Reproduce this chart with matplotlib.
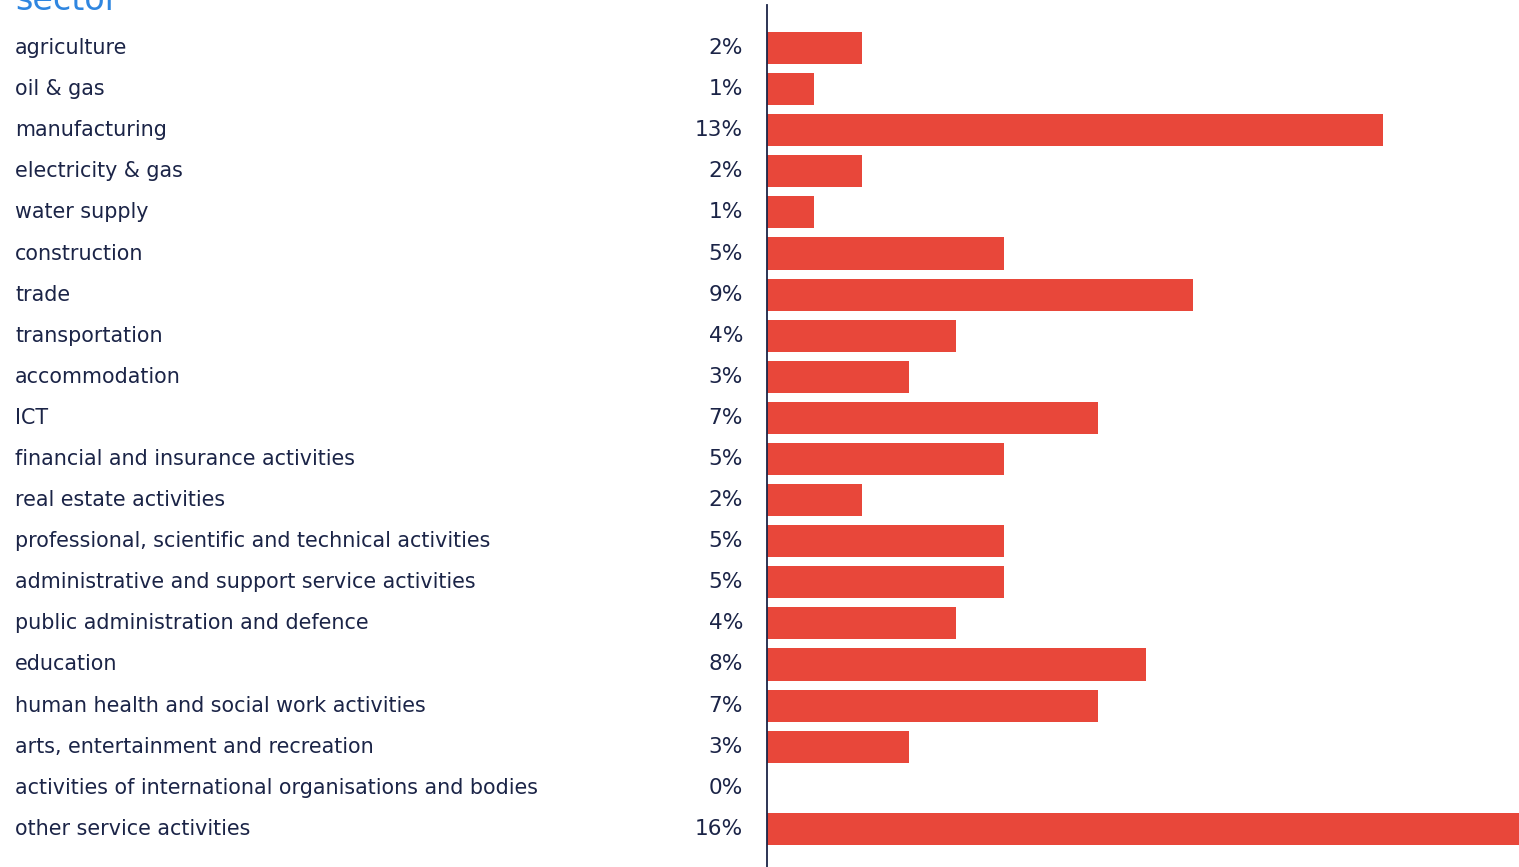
import matplotlib
matplotlib.use("Agg")
import matplotlib.pyplot as plt
import matplotlib.transforms as mtransforms

sectors = [
    "agriculture", "oil & gas", "manufacturing", "electricity & gas",
    "water supply", "construction", "trade", "transportation",
    "accommodation", "ICT", "financial and insurance activities",
    "real estate activities", "professional, scientific and technical activities",
    "administrative and support service activities",
    "public administration and defence", "education",
    "human health and social work activities",
    "arts, entertainment and recreation",
    "activities of international organisations and bodies",
    "other service activities",
]
shares = [2, 1, 13, 2, 1, 5, 9, 4, 3, 7, 5, 2, 5, 5, 4, 8, 7, 3, 0, 16]

navy = "#1b2447"
red = "#e8473a"
blue = "#2f86e0"

W, H = 1519, 867
fig = plt.figure(figsize=(W / 100, H / 100), dpi=100)
ax = fig.add_axes([767 / W, 0, 1 - 767 / W, 1 - 5 / H])

# row centres: first at 48 px from top, 41.1 px apart
y = list(range(len(sectors)))
ax.barh(y, shares, height=0.78, color=red)
ax.set_xlim(0, 15.88)
ax.set_ylim((867 - 48) / 41.1, (5 - 48) / 41.1)

for s in ["top", "right", "bottom"]:
    ax.spines[s].set_visible(False)
ax.spines["left"].set_color(navy)
ax.spines["left"].set_linewidth(1.3)
ax.set_xticks([])
ax.set_yticks([])

name_tr = mtransforms.blended_transform_factory(fig.transFigure, ax.transData)
for i, name in enumerate(sectors):
    ax.text(15 / W, i, name, transform=name_tr, ha="left", va="center",
            fontsize=14.9, color=navy)

ax_tr = ax.get_yaxis_transform()
for i, v in enumerate(shares):
    ax.annotate(f"{v}%", xy=(0, i), xycoords=ax_tr, xytext=(-24, 0),
                textcoords="offset pixels", ha="right", va="center",
                fontsize=15.6, color=navy)

fig.text(15 / W, 1 - 10 / H, "sector", ha="left", va="baseline",
         fontsize=24, color=blue)

fig.savefig("out.png", dpi=100)
